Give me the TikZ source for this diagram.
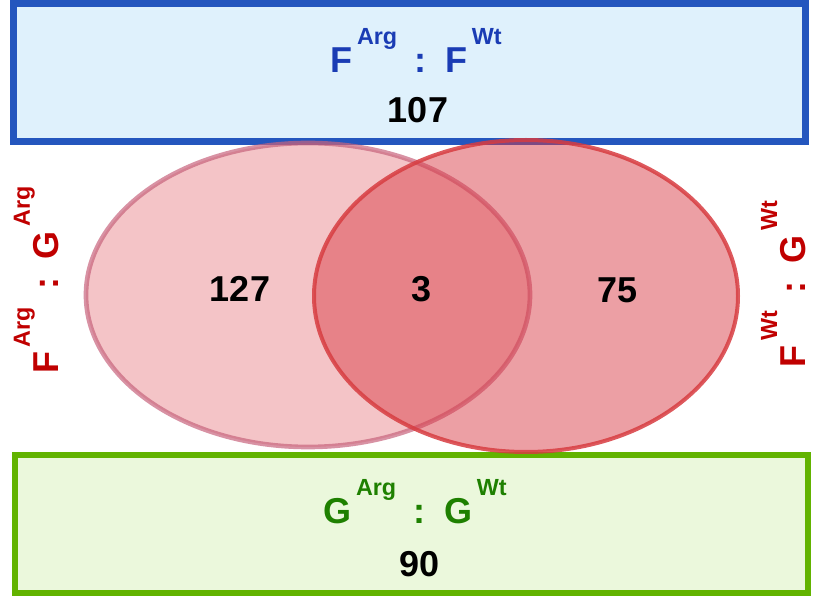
\documentclass[tikz,border=0pt]{standalone}
\usepackage{fontspec}
\setmainfont{Liberation Sans}

\definecolor{boxblue}{RGB}{36,86,190}
\definecolor{fillblue}{RGB}{223,241,252}
\definecolor{textblue}{RGB}{26,60,180}
\definecolor{boxgreen}{RGB}{98,179,0}
\definecolor{fillgreen}{RGB}{235,248,220}
\definecolor{textgreen}{RGB}{30,128,0}
\definecolor{textred}{RGB}{192,0,0}
\definecolor{vennred}{RGB}{217,60,70}
\definecolor{leftedge}{RGB}{200,100,125}
\definecolor{rightedge}{RGB}{215,60,65}

\newcommand{\pairlabel}[4]{#1\hspace{3.5pt}\raisebox{21pt}{\fontsize{17.5}{17.5}\selectfont #2}\hspace{13pt}:\hspace{14pt}#3\hspace{3.5pt}\raisebox{21pt}{\fontsize{17.5}{17.5}\selectfont #4}}

\begin{document}
\begin{tikzpicture}[x=0.75pt, y=-0.75pt,
    lbl/.style={font=\bfseries\fontsize{27}{27}\selectfont, anchor=base, inner sep=0pt},
    num/.style={font=\bfseries\fontsize{27}{27}\selectfont, anchor=base, inner sep=0pt}]

    \useasboundingbox (0,0) rectangle (815,598);

    % boxes
    \draw [line width=5.25pt, draw=boxblue, fill=fillblue] (13,4) rectangle (805,142);
    \draw [line width=4.5pt, draw=boxgreen, fill=fillgreen] (15,455) rectangle (808,593);

    % venn
    \draw [line width=3.5pt, draw=leftedge, draw opacity=0.7, fill=vennred, fill opacity=0.3] (308,295) ellipse (222 and 152);
    \draw [line width=3pt, draw=rightedge, draw opacity=0.85, fill=vennred, fill opacity=0.49] (526,296) ellipse (212 and 156);

    \node [lbl, text=textblue] (a) at (416, 73) {\pairlabel{F}{Arg}{F}{Wt}};
    \node [num] (b) at (418, 123) {107};
    \node [lbl, text=textgreen] (c) at (415, 524) {\pairlabel{G}{Arg}{G}{Wt}};
    \node [num] (d) at (420, 577) {90};
    \node [lbl, text=textred, rotate=90] (e) at (58, 280) {\pairlabel{F}{Arg}{G}{Arg}};
    \node [lbl, text=textred, rotate=90] (f) at (805, 284) {\pairlabel{F}{Wt}{G}{Wt}};

    \node [num] (g) at (240, 302) {127};
    \node [num] (h) at (422, 302) {3};
    \node [num] (i) at (618, 303) {75};

\end{tikzpicture}
\end{document}
